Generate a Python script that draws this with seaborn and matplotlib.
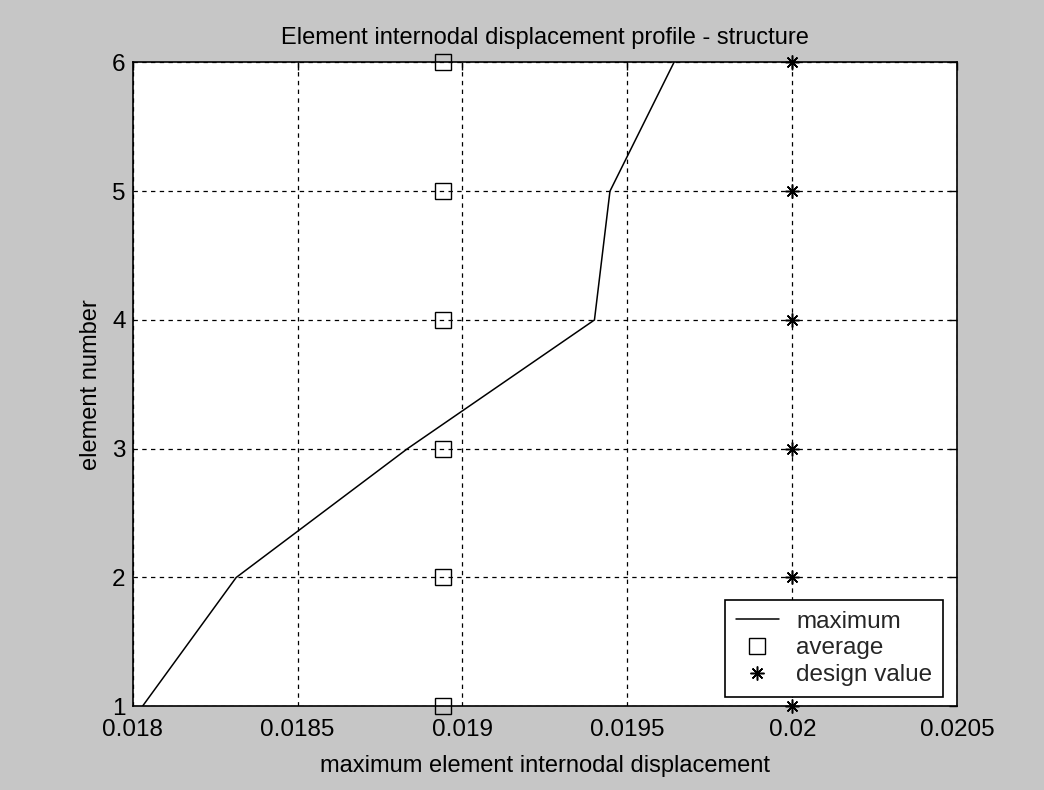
import numpy as np
import pandas as pd
import matplotlib
matplotlib.use("Agg")
import matplotlib.pyplot as plt
import seaborn as sns

# Data
elements = [1, 2, 3, 4, 5, 6]
maximum = [0.01803, 0.018314, 0.018833, 0.019400, 0.019447, 0.019641]
average = [0.01894, 0.01894, 0.01894, 0.01894, 0.01894, 0.01894]
design_value = [0.02, 0.02, 0.02, 0.02, 0.02, 0.02]
xtick_vals = [0.018, 0.0185, 0.019, 0.0195, 0.02, 0.0205]
xtick_labels = ["0.018", "0.0185", "0.019", "0.0195", "0.02", "0.0205"]
ytick_vals = [1, 2, 3, 4, 5, 6]

sns.set_theme(style="white")
plt.rcParams['font.family'] = ['Liberation Sans', 'DejaVu Sans']

df = pd.DataFrame({"element": elements, "maximum": maximum,
                   "average": average, "design": design_value})

fig = plt.figure(figsize=(10.44, 7.9), dpi=100, facecolor="#c6c6c6")
ax = fig.add_axes([0.127, 0.106, 0.790, 0.815])
ax.set_facecolor("white")

sns.lineplot(data=df, x="maximum", y="element", sort=False, estimator=None,
             color="black", linewidth=1.1, ax=ax, label="maximum")
ax.plot(df["average"], df["element"], linestyle="none", marker="s",
        markersize=11, markerfacecolor="none", markeredgecolor="black",
        markeredgewidth=1.0, label="average", clip_on=False, zorder=5)
ax.plot(df["design"], df["element"], linestyle="none", marker=(8, 2, 0),
        markersize=10, markerfacecolor="black", markeredgecolor="black",
        markeredgewidth=1.1, label="design value", clip_on=False, zorder=5)

ax.set_xlim(0.018, 0.0205)
ax.set_ylim(1, 6)
ax.set_xticks(xtick_vals)
ax.set_xticklabels(xtick_labels)
ax.set_yticks(ytick_vals)
ax.tick_params(direction="in", top=True, right=True, length=6, width=1,
               labelsize=17.5, colors="black")
ax.tick_params(axis="x", pad=9.5)
ax.tick_params(axis="y", pad=5)
ax.grid(True, color="black", linestyle=(0, (3.5, 3.5)), linewidth=0.9)
for s in ax.spines.values():
    s.set_color("black")
    s.set_linewidth(1.2)

ax.set_title("Element internodal displacement profile - structure",
             fontsize=17, color="black", pad=13)
ax.set_xlabel("maximum element internodal displacement", fontsize=17,
              color="black", labelpad=10)
ax.set_ylabel("element number", fontsize=17, color="black", labelpad=7)

leg = ax.legend(loc="lower right", fontsize=17.5, frameon=True, fancybox=False,
                edgecolor="black", framealpha=1, borderpad=0.45,
                handlelength=1.8, handletextpad=0.7, labelspacing=0.2,
                borderaxespad=0, bbox_to_anchor=(0.983, 0.014))
leg.get_frame().set_linewidth(1.2)

fig.savefig("out.png", dpi=100, facecolor=fig.get_facecolor())
